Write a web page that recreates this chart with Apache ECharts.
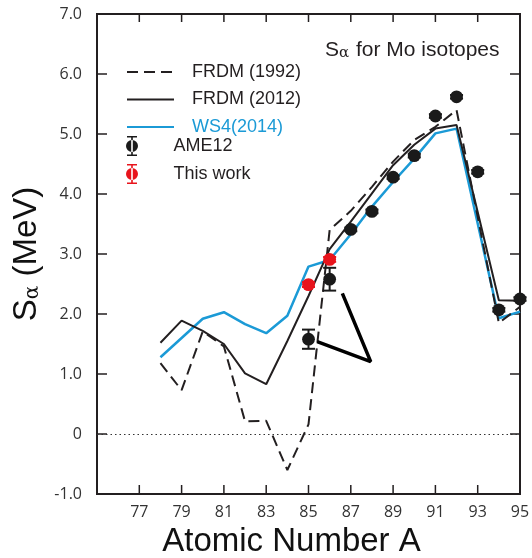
<!DOCTYPE html>
<html lang="en">

<head>
  <meta charset="UTF-8">
  <title>Sα for Mo isotopes</title>
  <script src="https://cdn.jsdelivr.net/npm/echarts@6/dist/echarts.min.js"></script>
  <style>
    html, body { margin: 0; padding: 0; background: #fff; }
    #main { width: 532px; height: 558px; }
  </style>
</head>

<body>
  <div id="main"></div>
</body>
<script>
  // mass numbers for the model curves
  let massNumbers = [78, 79, 80, 81, 82, 83, 84, 85, 86, 87, 88, 89, 90, 91, 92, 93, 94, 95]
  let frdm1992 = [1.18, 0.73, 1.71, 1.46, 0.21, 0.22, -0.60, 0.16, 3.40, 3.72, 4.12, 4.54, 4.90, 5.12, 5.40, 3.62, 1.85, 2.12]
  let frdm2012 = [1.52, 1.89, 1.72, 1.50, 1.01, 0.83, 1.55, 2.30, 3.08, 3.54, 4.01, 4.48, 4.82, 5.09, 5.15, 3.70, 2.23, 2.22]
  let ws4 = [1.28, 1.60, 1.92, 2.03, 1.83, 1.68, 1.97, 2.79, 2.90, 3.33, 3.79, 4.20, 4.59, 5.01, 5.09, 3.51, 1.93, 2.04]

  // experimental points: mass number, value, error
  let ame12A = [85, 86, 87, 88, 89, 90, 91, 92, 93, 94, 95]
  let ame12 = [1.58, 2.58, 3.41, 3.71, 4.28, 4.64, 5.30, 5.62, 4.37, 2.07, 2.25]
  let ame12Err = [0.16, 0.19, 0.03, 0.03, 0.03, 0.03, 0.03, 0.03, 0.03, 0.03, 0.03]
  let thisWorkA = [85, 86]
  let thisWork = [2.49, 2.91]
  let thisWorkErr = [0.04, 0.04]

  // thick black wedge drawn on the plot
  let wedge = [[85.41, 1.54], [87.94, 1.205], [86.6, 2.345]]

  // tick positions
  let xTicks = [77, 79, 81, 83, 85, 87, 89, 91, 93, 95]
  let yTicks = [0, 1, 2, 3, 4, 5, 6]

  let ink = '#231f20'
  let blue = '#1b9ad6'
  let red = '#e8141c'
  let errIcon = 'path://M5 0h10v1.6H5z M9.2 0h1.6v20H9.2z M5 18.4h10v1.6H5z M4 10a6 6 0 1 0 12 0a6 6 0 1 0 -12 0z'

  function zip(xs, ys, es) {
    return xs.map((x, i) => es ? [x, ys[i], es[i]] : [x, ys[i]])
  }

  function renderDots(color) {
    return function (params, api) {
      let p = api.coord([api.value(0), api.value(1)])
      let hi = api.coord([api.value(0), api.value(1) + api.value(2)])
      let lo = api.coord([api.value(0), api.value(1) - api.value(2)])
      let cap = 6.5
      let st = { stroke: color, lineWidth: 2 }
      return {
        type: 'group',
        children: [
          { type: 'line', shape: { x1: p[0], y1: hi[1], x2: p[0], y2: lo[1] }, style: st },
          { type: 'line', shape: { x1: p[0] - cap, y1: hi[1], x2: p[0] + cap, y2: hi[1] }, style: st },
          { type: 'line', shape: { x1: p[0] - cap, y1: lo[1], x2: p[0] + cap, y2: lo[1] }, style: st },
          { type: 'circle', shape: { cx: p[0], cy: p[1], r: 6.4 }, style: { fill: color } }
        ]
      }
    }
  }

  initChart()

  function initChart() {
    let myChart = echarts.init(document.getElementById('main'))
    let tickLabel = { fontFamily: 'Open Sans', fontSize: 16, color: '#333' }
    let option = {
      animation: false,
      title: {
        text: '{s|S}{a|α}{s| for Mo isotopes}',
        left: 320,
        top: 35,
        textStyle: {
          fontWeight: 'normal',
          rich: {
            s: { fontFamily: 'Liberation Sans', fontSize: 21, fontWeight: 'normal', color: ink },
            a: { fontFamily: 'DejaVu Serif', fontSize: 15, fontWeight: 'normal', color: ink, padding: [6, 1, 0, 0] }
          }
        }
      },
      legend: [{
        orient: 'vertical',
        left: 126,
        top: 63,
        padding: 0,
        itemWidth: 47,
        itemHeight: 14,
        itemGap: 9.5,
        itemStyle: { opacity: 0 },
        textStyle: { fontFamily: 'Liberation Sans', fontSize: 18, color: ink, padding: [0, 0, 0, 13] },
        data: [
          { name: 'FRDM (1992)' },
          { name: 'FRDM (2012)' },
          { name: 'WS4(2014)', textStyle: { color: blue } }
        ]
      }, {
        orient: 'vertical',
        left: 126,
        top: 136,
        padding: 0,
        itemWidth: 47,
        itemHeight: 20,
        itemGap: 8,
        textStyle: { fontFamily: 'Liberation Sans', fontSize: 18, color: ink, padding: [0, 0, 0, 13] },
        data: [
          { name: 'AME12', icon: errIcon },
          { name: 'This work', icon: errIcon }
        ]
      }],
      grid: { left: 97, right: 12, top: 14, bottom: 64, outerBoundsMode: 'none' },
      xAxis: {
        type: 'value',
        min: 75,
        max: 95,
        name: 'Atomic Number A',
        nameLocation: 'middle',
        nameGap: 31,
        nameTextStyle: { fontFamily: 'Liberation Sans', fontSize: 33, color: '#111', padding: [0, 34, 0, 0] },
        axisLine: { show: true, onZero: false, lineStyle: { color: ink, width: 2 } },
        axisTick: { show: false },
        axisLabel: Object.assign({ margin: 10, customValues: xTicks }, tickLabel),
        splitLine: { show: false }
      },
      yAxis: {
        type: 'value',
        min: -1,
        max: 7,
        interval: 1,
        name: '{s|S}{a|α}{s| (MeV)}',
        nameLocation: 'middle',
        nameGap: 52,
        nameTextStyle: {
          rich: {
            s: { fontFamily: 'Liberation Sans', fontSize: 33, color: '#111' },
            a: { fontFamily: 'DejaVu Serif', fontSize: 20, color: '#111', padding: [12, 0, 0, 0] }
          }
        },
        axisLine: { show: true, onZero: false, lineStyle: { color: ink, width: 2 } },
        axisTick: { show: false },
        axisLabel: Object.assign({
          margin: 15,
          formatter: v => v === 0 ? '0' : v.toFixed(1)
        }, tickLabel),
        splitLine: { show: false }
      },
      series: [{
        name: 'FRDM (1992)',
        type: 'line',
        symbol: 'none',
        data: zip(massNumbers, frdm1992),
        lineStyle: { color: ink, width: 2, type: [11, 6] },
        itemStyle: { color: ink },
        z: 3,
        markLine: {
          silent: true,
          symbol: ['none', 'none'],
          label: { show: false },
          lineStyle: { color: '#333', width: 1, type: [1.5, 3] },
          data: [{ yAxis: 0 }]
        }
      }, {
        name: 'FRDM (2012)',
        type: 'line',
        symbol: 'none',
        data: zip(massNumbers, frdm2012),
        lineStyle: { color: ink, width: 2 },
        itemStyle: { color: ink },
        z: 3
      }, {
        name: 'WS4(2014)',
        type: 'line',
        symbol: 'none',
        data: zip(massNumbers, ws4),
        lineStyle: { color: blue, width: 2.5 },
        itemStyle: { color: blue },
        z: 2
      }, {
        name: 'wedge',
        type: 'line',
        symbol: 'none',
        data: wedge,
        lineStyle: { color: '#000', width: 3.5 },
        z: 4
      }, {
        name: 'AME12',
        type: 'custom',
        renderItem: renderDots('#1a1a1a'),
        data: zip(ame12A, ame12, ame12Err),
        itemStyle: { color: '#1a1a1a' },
        z: 5
      }, {
        name: 'This work',
        type: 'custom',
        renderItem: renderDots(red),
        data: zip(thisWorkA, thisWork, thisWorkErr),
        itemStyle: { color: red },
        z: 6
      }]
    }
    myChart.setOption(option)

    // box and inward ticks, placed through the chart's own scales
    try {
      let px = (x, y) => myChart.convertToPixel({ gridIndex: 0 }, [x, y])
      let tl = px(75, 7), br = px(95, -1)
      let st = { stroke: ink, lineWidth: 1.5 }
      let items = [{
        type: 'rect',
        shape: { x: tl[0], y: tl[1], width: br[0] - tl[0], height: br[1] - tl[1] },
        style: { stroke: ink, lineWidth: 2, fill: 'none' },
        silent: true
      }]
      xTicks.forEach(v => {
        let x = px(v, 0)[0]
        items.push({ type: 'line', shape: { x1: x, y1: br[1], x2: x, y2: br[1] - 9 }, style: st, silent: true })
        items.push({ type: 'line', shape: { x1: x, y1: tl[1], x2: x, y2: tl[1] + 8 }, style: st, silent: true })
      })
      yTicks.forEach(v => {
        let y = px(80, v)[1]
        items.push({ type: 'line', shape: { x1: tl[0], y1: y, x2: tl[0] + 10, y2: y }, style: st, silent: true })
        items.push({ type: 'line', shape: { x1: br[0], y1: y, x2: br[0] - 10, y2: y }, style: st, silent: true })
      })
      myChart.setOption({ graphic: items })
    } catch (e) {
      console.log(e)
    }
  }
</script>

</html>
